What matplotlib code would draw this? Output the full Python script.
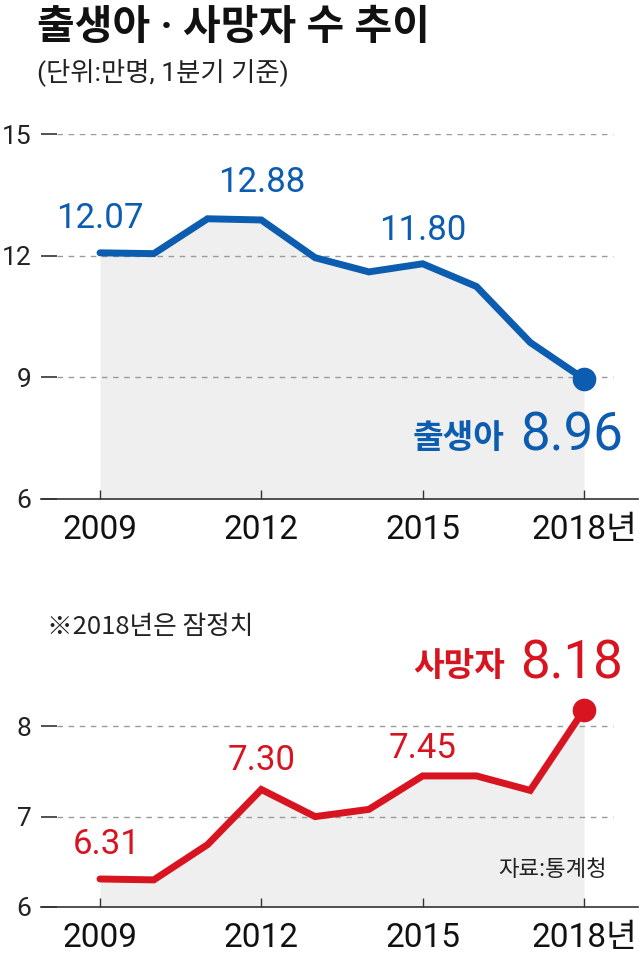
import matplotlib
matplotlib.use("Agg")
import matplotlib.pyplot as plt

plt.rcParams['font.family'] = ['Roboto', 'Noto Sans CJK KR', 'DejaVu Sans']

# data (1분기 기준, 만명)
years = [2009, 2010, 2011, 2012, 2013, 2014, 2015, 2016, 2017, 2018]
births = [12.07, 12.05, 12.91, 12.88, 11.95, 11.60, 11.80, 11.24, 9.86, 8.96]
deaths = [6.31, 6.30, 6.69, 7.30, 7.00, 7.08, 7.45, 7.45, 7.29, 8.18]
xticks = [2009, 2012, 2015, 2018]
xticklabels = ['2009', '2012', '2015', '2018년']
birth_labels = {2009: '12.07', 2012: '12.88', 2015: '11.80'}
death_labels = {2009: '6.31', 2012: '7.30', 2015: '7.45'}

BLUE = '#0c5cb0'
RED = '#d7141f'
FILL = '#efefef'
GRID = '#9a9a9a'
KR = ['Noto Sans CJK KR', 'DejaVu Sans']
MIX = ['Roboto', 'Noto Sans CJK KR']

W, H = 640, 956
fig = plt.figure(figsize=(W / 100, H / 100), dpi=100)

# pixel mapping: 2009 -> x=100, 2018 -> x=584
ppy = (584 - 100) / 9
x0 = 41
x1 = 638
xmin = 2009 - (100 - x0) / ppy
xmax = 2018 + (x1 - 584) / ppy
grid_end = 2018 + (613 - 584) / ppy
grid_start = xmin + 16 / ppy


def make_ax(top_px, bot_px, ylim):
    ax = fig.add_axes([x0 / W, 1 - bot_px / H, (x1 - x0) / W, (bot_px - top_px) / H])
    ax.set_xlim(xmin, xmax)
    ax.set_ylim(*ylim)
    for s in ['top', 'right', 'left']:
        ax.spines[s].set_visible(False)
    ax.spines['bottom'].set_color('#333333')
    ax.spines['bottom'].set_linewidth(1.2)
    ax.set_xticks(xticks)
    ax.set_xticklabels(xticklabels, fontsize=24, color='#111111')
    ax.tick_params(axis='x', direction='in', length=6.5, width=1, color='#333333', pad=11)
    ax.tick_params(axis='y', direction='in', length=11.5, width=1.2, color='#333333',
                   labelsize=19, labelcolor='#222222', pad=7)
    ax.patch.set_alpha(0)
    return ax


# 출생아 panel
ax1 = make_ax(134, 499, (6, 15))
ax1.set_yticks([6, 9, 12, 15])
ax1.hlines([9, 12, 15], grid_start, grid_end, colors=GRID, linestyles=(0, (4, 4)), linewidth=1)
ax1.fill_between(years, births, 6, color=FILL, zorder=1, linewidth=0)
ax1.plot(years, births, color=BLUE, linewidth=5, solid_capstyle='round', solid_joinstyle='miter', zorder=3)
ax1.plot(years[-1], births[-1], 'o', color=BLUE, markersize=16, zorder=4, clip_on=False)
birth_off = {2009: 24.5, 2012: 27, 2015: 24}
for yr, txt in birth_labels.items():
    v = births[years.index(yr)]
    ax1.annotate(txt, (yr, v), xytext=(0, birth_off[yr]), textcoords='offset points',
                 ha='center', va='center', fontsize=25, color=BLUE)
ax1.annotate('8.96', (years[-1], births[-1]), xytext=(28, -41), textcoords='offset points',
             ha='right', va='center', fontsize=38, color=BLUE)
ax1.annotate('출생아', (years[-1], births[-1]), xytext=(-57, -43), textcoords='offset points',
             ha='right', va='center', fontsize=24, color=BLUE, fontweight='bold', family=KR)

# 사망자 panel
ax2 = make_ax(681, 907, (6, 8.5))
ax2.set_yticks([6, 7, 8])
ax2.hlines([7, 8], grid_start, grid_end, colors=GRID, linestyles=(0, (4, 4)), linewidth=1)
ax2.fill_between(years, deaths, 6, color=FILL, zorder=1, linewidth=0)
ax2.plot(years, deaths, color=RED, linewidth=5, solid_capstyle='round', solid_joinstyle='miter', zorder=3)
ax2.plot(years[-1], deaths[-1], 'o', color=RED, markersize=16, zorder=4, clip_on=False)
death_off = {2009: 25, 2012: 21, 2015: 20}
for yr, txt in death_labels.items():
    v = deaths[years.index(yr)]
    ax2.annotate(txt, (yr, v), xytext=(5 if yr == 2009 else 0, death_off[yr]), textcoords='offset points',
                 ha='center', va='center', fontsize=25, color=RED)
ax2.annotate('8.18', (years[-1], deaths[-1]), xytext=(28, 33), textcoords='offset points',
             ha='right', va='center', fontsize=38, color=RED)
ax2.annotate('사망자', (years[-1], deaths[-1]), xytext=(-57, 31), textcoords='offset points',
             ha='right', va='center', fontsize=24, color=RED, fontweight='bold', family=KR)

# texts
fig.text(37 / W, 1 - 28 / H, '출생아 · 사망자 수 추이', fontsize=29.5, fontweight='bold',
         family=MIX, va='center', ha='left', color='#111111')
fig.text(37 / W, 1 - 72 / H, '(단위:만명, 1분기 기준)', fontsize=19,
         family=MIX, va='center', ha='left', color='#222222')
fig.text(47 / W, 1 - 627 / H, '※2018년은 잠정치', fontsize=18.5,
         family=KR, va='center', ha='left', color='#222222')
fig.text(607 / W, 1 - 870 / H, '자료:통계청', fontsize=16,
         family=KR, va='center', ha='right', color='#222222')

fig.savefig('out.png', dpi=100, facecolor='white')
